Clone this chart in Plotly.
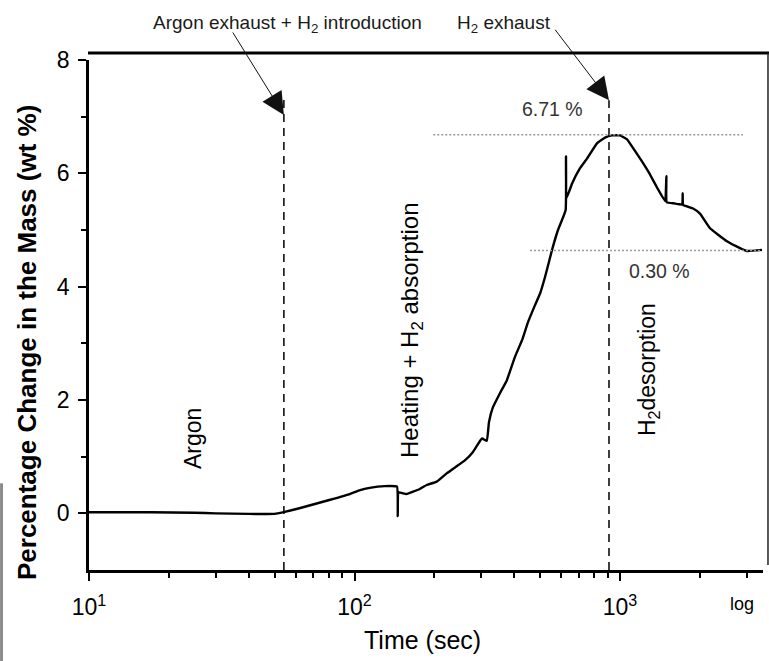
import numpy as np
import plotly.graph_objects as go

# ---------------- data ----------------
time_s = [10, 17, 25, 30, 40, 50, 54, 62, 81, 96, 105, 114, 130, 144.5, 145.5, 146.5,
          157, 176, 187, 204, 223, 239, 261, 279, 302, 315, 321, 332, 353, 375, 402,
          428, 450, 478, 500, 522, 554, 584,
          624, 626, 628, 660, 707, 751, 819, 878, 933, 1000, 1063, 1119, 1210,
          1297, 1390, 1480, 1495, 1500, 1600, 1715, 1722, 1730, 1884, 2001, 2183,
          2529, 2831, 3009, 3426]
mass_pct = [0.02, 0.02, 0.01, 0.0, -0.01, -0.01, 0.02, 0.09, 0.24, 0.34, 0.41, 0.45, 0.48, 0.47, -0.05, 0.37,
            0.34, 0.43, 0.50, 0.56, 0.71, 0.81, 0.94, 1.08, 1.32, 1.28, 1.61, 1.87, 2.12, 2.35, 2.76,
            3.06, 3.37, 3.67, 3.88, 4.17, 4.64, 5.00,
            5.35, 6.30, 5.56, 5.82, 6.09, 6.26, 6.53, 6.63, 6.67, 6.67, 6.60, 6.45, 6.21,
            5.98, 5.72, 5.51, 5.95, 5.49, 5.47, 5.45, 5.65, 5.44, 5.38, 5.29, 5.03,
            4.80, 4.68, 4.63, 4.65]

t_argon_exhaust = 54.2      # Argon exhaust + H2 introduction
t_h2_exhaust = 909          # H2 exhaust
dash_tops = [7.38, 7.29]
peak_level = 6.68
peak_span = [198, 2906]
final_level = 4.64
final_span = [458, 3426]

x_major = [10, 100, 1000]
x_major_text = ["10<sup>1</sup>", "10<sup>2</sup>", "10<sup>3</sup>"]
x_minor = [20, 30, 40, 50, 60, 70, 80, 90, 200, 300, 400, 500, 600, 700, 800, 900, 2000, 3000]
y_major = [0, 2, 4, 6, 8]
y_minor = [1, 3, 5, 7]

REG = "Liberation Sans, Arial, sans-serif"

fig = go.Figure()

# main curve
fig.add_trace(go.Scatter(x=time_s, y=mass_pct, mode="lines",
                         line=dict(color="black", width=2.4, shape="spline", smoothing=0.3),
                         hoverinfo="skip"))

# dashed vertical markers
for t, top in zip([t_argon_exhaust, t_h2_exhaust], dash_tops):
    fig.add_trace(go.Scatter(x=[t, t], y=[-1, top], mode="lines",
                             line=dict(color="black", width=1.5, dash="8px,6px"),
                             hoverinfo="skip"))

# dotted reference levels
fig.add_trace(go.Scatter(x=peak_span, y=[peak_level, peak_level], mode="lines",
                         line=dict(color="#999999", width=1.5, dash="2px,2px"), hoverinfo="skip"))
fig.add_trace(go.Scatter(x=final_span, y=[final_level, final_level], mode="lines",
                         line=dict(color="#999999", width=1.5, dash="2px,2px"), hoverinfo="skip"))

fig.update_layout(
    width=769, height=661,
    margin=dict(l=89, r=6, t=60, b=91),
    plot_bgcolor="white", paper_bgcolor="white",
    showlegend=False,
    xaxis=dict(type="log", range=[1, 3.5386],
               tickmode="array", tickvals=x_major, ticktext=x_major_text,
               ticks="outside", ticklen=8, tickwidth=2, tickcolor="black",
               showline=True, linewidth=2.5, linecolor="black",
               showgrid=False, zeroline=False, ticklabelstandoff=7,
               tickfont=dict(family=REG, size=23, color="black"),
               minor=dict(tickmode="array", tickvals=x_minor, ticks="outside",
                          ticklen=5, tickwidth=2, tickcolor="black", showgrid=False)),
    yaxis=dict(range=[-1, 8],
               tickmode="array", tickvals=y_major,
               ticks="outside", ticklen=8, tickwidth=2, tickcolor="black",
               showline=True, linewidth=2.5, linecolor="black",
               showgrid=False, zeroline=False, ticklabelstandoff=4,
               tickfont=dict(family=REG, size=23, color="black"),
               minor=dict(tickmode="array", tickvals=y_minor, ticks="outside",
                          ticklen=5, tickwidth=2, tickcolor="black", showgrid=False)),
)

# frame pieces: thick top line and thin right line
fig.add_shape(type="line", xref="paper", yref="paper", x0=-0.0015, x1=1.009, y0=1.0137, y1=1.0137,
              line=dict(color="black", width=3))
fig.add_shape(type="line", xref="paper", yref="paper", x0=1.0074, x1=1.0074, y0=0.0098, y1=1.0137,
              line=dict(color="#222222", width=1.5))
# scan artefact strip at the left edge
fig.add_shape(type="rect", xref="paper", yref="paper", x0=-0.1320, x1=-0.1276, y0=-0.179, y1=0.17,
              line=dict(width=0), fillcolor="#8c8c8c")

def txt(text, x, y, size, family=REG, angle=0, color="black", bold=False):
    if bold:
        text = "<b>" + text + "</b>"
    fig.add_annotation(text=text, xref="paper", yref="paper", x=x, y=y,
                       xanchor="center", yanchor="middle", showarrow=False,
                       textangle=angle, font=dict(family=family, size=size, color=color))

txt("Argon exhaust + H<sub>2</sub> introduction", 0.2938, 1.070, 19, color="#1a1a1a")
txt("H<sub>2</sub> exhaust", 0.6157, 1.070, 19, color="#1a1a1a")
txt("6.71 %", 0.687, 0.904, 19.5, color="#333333")
txt("0.30 %", 0.847, 0.586, 19.5, color="#333333")
txt("Argon", 0.1543, 0.2588, 23, angle=-90)
txt("Heating + H<sub>2</sub> absorption", 0.4792, 0.4706, 24, angle=-90)
txt("H<sub>2</sub>desorption", 0.8294, 0.392, 23, angle=-90)
txt("log", 0.969, -0.0667, 18)
txt("Time (sec)", 0.4955, -0.137, 25)
txt("Percentage Change in the Mass (wt %)", -0.092, 0.447, 26, angle=-90, bold=True)

# arrows
fig.add_annotation(x=np.log10(t_argon_exhaust), y=7.03, xref="x", yref="y", text="",
                   showarrow=True, ax=-52, ay=-84, arrowhead=2, arrowsize=4.5, arrowwidth=1.0,
                   arrowcolor="#111111", standoff=0)
fig.add_annotation(x=np.log10(t_h2_exhaust), y=7.29, xref="x", yref="y", text="",
                   showarrow=True, ax=-55, ay=-72, arrowhead=2, arrowsize=4.5, arrowwidth=1.0,
                   arrowcolor="#111111", standoff=0)

fig.write_html("out.html")
